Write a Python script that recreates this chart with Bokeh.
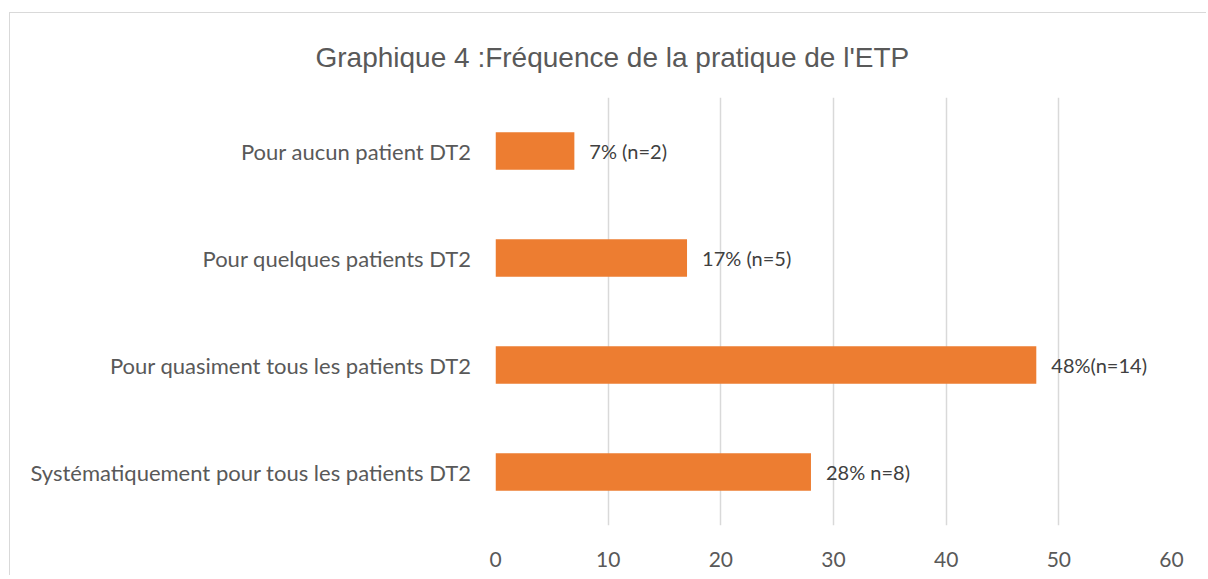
from bokeh.plotting import figure
from bokeh.models import ColumnDataSource, FixedTicker, LabelSet, Title
from bokeh.core.properties import value
from bokeh.embed import file_html
from bokeh.resources import INLINE

categories = [
    "Systématiquement pour tous les patients DT2",
    "Pour quasiment tous les patients DT2",
    "Pour quelques patients DT2",
    "Pour aucun patient DT2",
]
values = [28, 48, 17, 7]
labels = ["28% n=8)", "48%(n=14)", "17% (n=5)", "7% (n=2)"]
x_ticks = [0, 10, 20, 30, 40, 50, 60]
title_text = "Graphique 4 :Fréquence de la pratique de l'ETP"

BAR = "#ED7D31"
GRID = "#d9d9d9"
TXT = "#595959"
LBL_FONT = "Lato"

src = ColumnDataSource(dict(cat=categories, val=values, lab=labels))

p = figure(
    y_range=categories, x_range=(0, 60),
    width=1197, height=563,
    output_backend="svg", toolbar_location=None,
    min_border_left=485, min_border_right=36, min_border_top=84, min_border_bottom=51,
    styles={"border-top": f"1px solid {GRID}", "border-left": f"1px solid {GRID}",
            "margin-top": "12px", "margin-left": "9px"},
)
p.outline_line_color = None
p.background_fill_color = "white"
p.border_fill_color = "white"

p.hbar(y="cat", right="val", left=0, height=0.35, source=src,
       fill_color=BAR, line_color=None)

p.add_layout(LabelSet(x="val", y="cat", text="lab", source=src,
                      x_offset=15, text_baseline="middle", text_align="left",
                      text_font=value(LBL_FONT), text_font_size="20px",
                      text_color="#404040"))

t = Title(text=title_text, align="left", offset=-180, standoff=49,
          text_font="Liberation Sans", text_font_size="28px",
          text_font_style="normal", text_color=TXT)
p.add_layout(t, "above")

p.xaxis.ticker = FixedTicker(ticks=x_ticks)
p.xaxis.axis_line_color = None
p.xaxis.major_tick_line_color = None
p.xaxis.minor_tick_line_color = None
p.xaxis.major_label_standoff = 20
p.xaxis.major_label_text_font = LBL_FONT
p.xaxis.major_label_text_font_size = "21px"
p.xaxis.major_label_text_color = TXT

p.yaxis.axis_line_color = None
p.yaxis.major_tick_line_color = None
p.yaxis.minor_tick_line_color = None
p.yaxis.major_label_standoff = 18
p.yaxis.major_label_text_font = LBL_FONT
p.yaxis.major_label_text_font_size = "22px"
p.yaxis.major_label_text_color = TXT

p.ygrid.grid_line_color = None
p.xgrid.grid_line_color = GRID
p.xgrid.grid_line_width = 1.5
p.y_range.range_padding = 0

open("out.html", "w").write(file_html(p, INLINE))
